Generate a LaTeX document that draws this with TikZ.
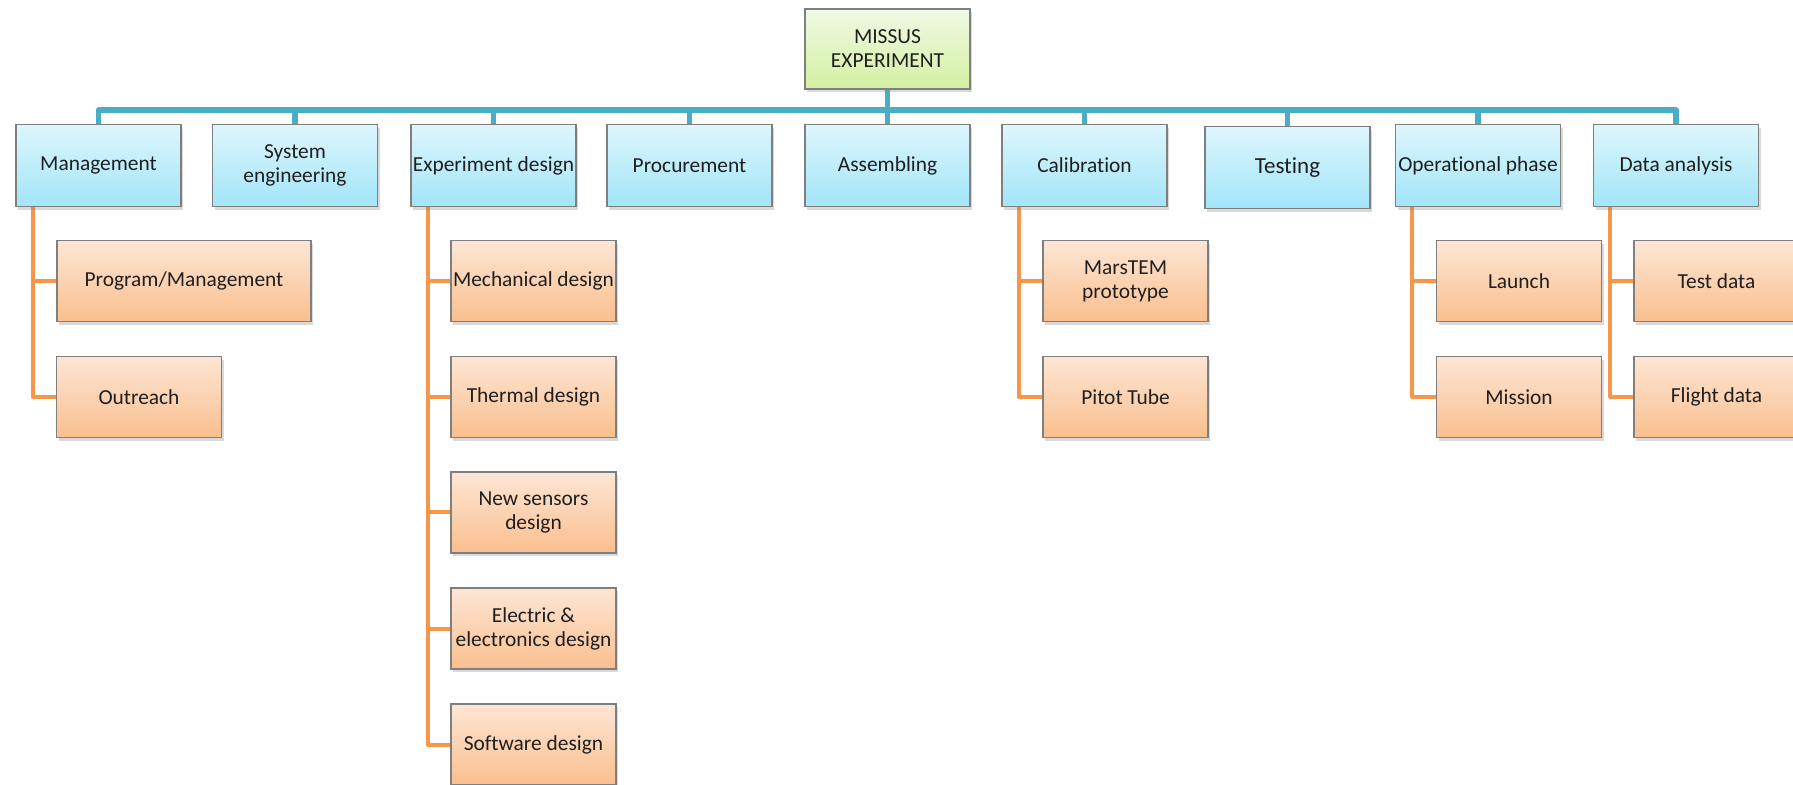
\documentclass[tikz,border=0pt]{standalone}
\usepackage{fontspec}
\setmainfont{Carlito}[Ligatures=NoCommon]
\usetikzlibrary{shadows,backgrounds}

\definecolor{boxline}{HTML}{7F7F7F}
\definecolor{txt}{HTML}{1F1F1F}
\definecolor{busblue}{HTML}{4BACC6}
\definecolor{branchorange}{HTML}{F79646}
\definecolor{greentop}{HTML}{F1F9E4}
\definecolor{greenbot}{HTML}{D2F1A2}
\definecolor{bluetop}{HTML}{DEF6FD}
\definecolor{bluebot}{HTML}{A2E5F9}
\definecolor{orangetop}{HTML}{FDE6D5}
\definecolor{orangebot}{HTML}{FABF8E}

\tikzset{
  box/.style={draw=boxline, line width=0.6pt, align=center, inner sep=0.5pt,
    minimum width=82.5pt, minimum height=40.5pt, text=txt,
    font=\fontsize{10.7}{12}\selectfont,
    drop shadow={shadow xshift=1.2pt, shadow yshift=-1.6pt, opacity=0.3}},
  rootbox/.style={box, top color=greentop, bottom color=greenbot, minimum height=40pt},
  phasebox/.style={box, top color=bluetop, bottom color=bluebot, minimum height=41pt},
  taskbox/.style={box, top color=orangetop, bottom color=orangebot},
  bus/.style={busblue, line width=2.6pt, line join=round},
  branch/.style={branchorange, line width=2pt, line join=round}
}

\begin{document}
\begin{tikzpicture}[x=0.5pt,y=-0.5pt]
  \useasboundingbox (0,0) rectangle (1793,785);

  % top of the tree
  \node[rootbox] (missus) at (887.5,49) {MISSUS\\EXPERIMENT};

  % work packages
  \node[phasebox] (mgmt) at (98.5,165.5) {Management};
  \node[phasebox] (syseng) at (295,165.5) {System\\engineering};
  \node[phasebox] (expdes) at (493.5,165.5) {Experiment design};
  \node[phasebox] (procure) at (689.5,165.5) {Procurement};
  \node[phasebox] (assemble) at (887.5,165.5) {Assembling};
  \node[phasebox] (calib) at (1084.5,165.5) {Calibration};
  \node[phasebox, font=\fontsize{11.5}{13}\selectfont] (testing) at (1287.5,167.5) {Testing};
  \node[phasebox] (operate) at (1478,165.5) {Operational phase};
  \node[phasebox] (analysis) at (1676,165.5) {Data analysis};

  % tasks
  \node[taskbox, minimum width=127pt] (program) at (184,281) {Program/Management};
  \node[taskbox] (outreach) at (139,397) {Outreach};

  \node[taskbox] (mechdes) at (533.5,281) {Mechanical design};
  \node[taskbox] (thermdes) at (533.5,397) {Thermal design};
  \node[taskbox] (sensdes) at (533.5,512.5) {New sensors\\design};
  \node[taskbox] (elecdes) at (533.5,628.5) {Electric \&\\electronics design};
  \node[taskbox] (softdes) at (533.5,744.5) {Software design};

  \node[taskbox] (marstem) at (1125.5,281) {MarsTEM\\prototype};
  \node[taskbox] (pitot) at (1125.5,397) {Pitot Tube};

  \node[taskbox] (launch) at (1519,281) {Launch};
  \node[taskbox] (mission) at (1519,397) {Mission};

  \node[taskbox] (testdata) at (1716.5,281) {Test data};
  \node[taskbox] (flightdata) at (1716.5,397) {Flight data};

  % connectors
  \begin{scope}[on background layer]
    \coordinate (bus) at (0,110);
    \draw[bus] (missus.south) -- (missus.south |- bus);
    \draw[bus] (mgmt.north) |- (bus -| analysis.north) -- (analysis.north);
    \foreach \n in {syseng,expdes,procure,assemble,calib,testing,operate}
      \draw[bus] (\n.north) -- (\n.north |- bus);
    \foreach \p/\c in {mgmt/program,mgmt/outreach,
        expdes/mechdes,expdes/thermdes,expdes/sensdes,expdes/elecdes,expdes/softdes,
        calib/marstem,calib/pitot,operate/launch,operate/mission,
        analysis/testdata,analysis/flightdata}
      \draw[branch] ([xshift=8.7pt]\p.south west) |- (\c.west);
  \end{scope}
\end{tikzpicture}
\end{document}
